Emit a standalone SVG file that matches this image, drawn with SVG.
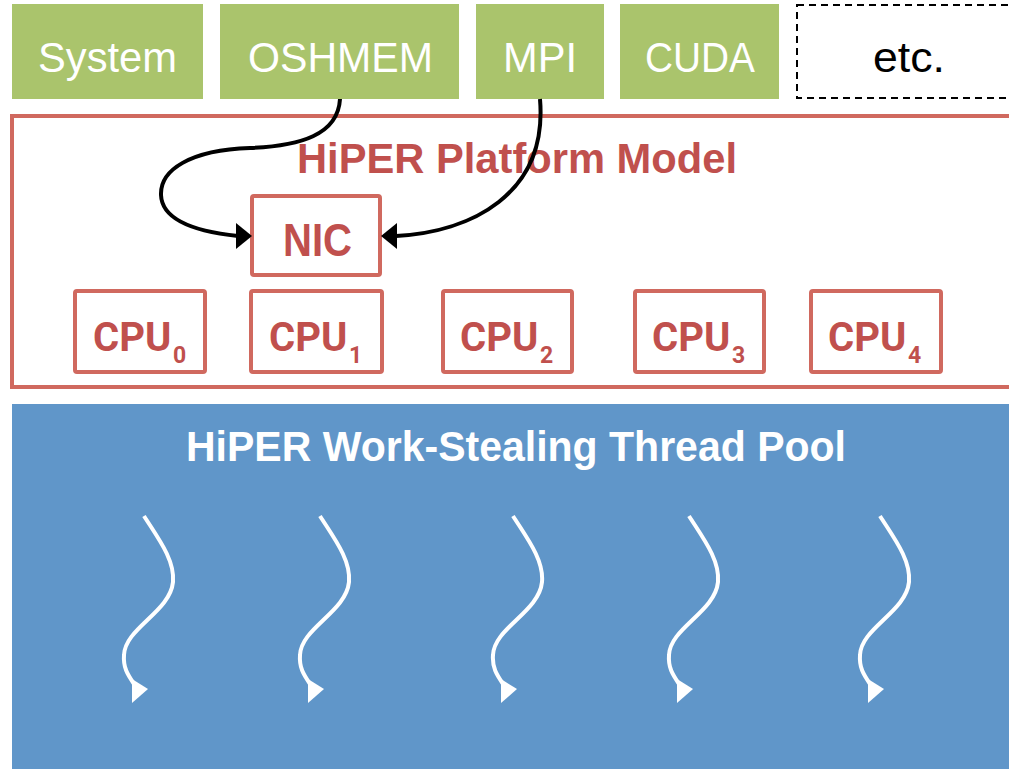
<svg xmlns="http://www.w3.org/2000/svg" width="1009" height="769" viewBox="0 0 1009 769">
<style>
.g{fill:#aac46c}
.gt{font-family:"Liberation Sans",Arial,sans-serif;font-size:43px;fill:#fff}
.rb{fill:#fff;stroke:#d0695f;stroke-width:4}
.rt{font-family:"Liberation Sans",Arial,sans-serif;font-weight:bold;fill:#c0504d}
.cpu{font-family:Roboto,"Liberation Sans",sans-serif;font-weight:bold;fill:#c0504d;font-size:40px}
.sub{font-size:23px}
.wt{font-family:"Liberation Sans",Arial,sans-serif;font-weight:bold;font-size:42px;fill:#fff}
.conn{fill:none;stroke:#000;stroke-width:4}
.thr{fill:none;stroke:#fff;stroke-width:4}
</style>
<rect width="1009" height="769" fill="#fff"/>
<g id="system"><rect class="g" x="12" y="4" width="191" height="95"/><text class="gt" x="38" y="72" textLength="139" lengthAdjust="spacingAndGlyphs">System</text></g>
<g id="oshmem"><rect class="g" x="220" y="4" width="239" height="95"/><text class="gt" x="248" y="72" textLength="185" lengthAdjust="spacingAndGlyphs">OSHMEM</text></g>
<g id="mpi"><rect class="g" x="476" y="4" width="128" height="95"/><text class="gt" x="503" y="72" textLength="74" lengthAdjust="spacingAndGlyphs">MPI</text></g>
<g id="cuda"><rect class="g" x="620" y="4" width="159" height="95"/><text class="gt" x="645" y="72" textLength="110" lengthAdjust="spacingAndGlyphs">CUDA</text></g>
<g id="etc"><rect x="797" y="5" width="220" height="93" fill="#fff" stroke="#000" stroke-width="2" stroke-dasharray="7,5"/><text x="873" y="72" font-family="Liberation Sans,Arial,sans-serif" font-size="43" fill="#000" textLength="72" lengthAdjust="spacingAndGlyphs">etc.</text></g>
<g id="platform"><rect x="12" y="116" width="1010" height="271" fill="#fff" stroke="#d0695f" stroke-width="4"/><text class="rt" x="297" y="173" font-size="42" textLength="440" lengthAdjust="spacingAndGlyphs">HiPER Platform Model</text></g>
<g id="nic"><rect class="rb" x="252" y="196" width="128" height="79" rx="2"/><text class="rt" x="283" y="256" font-size="46" textLength="69" lengthAdjust="spacingAndGlyphs">NIC</text></g>
<g id="cpu0"><rect class="rb" x="75" y="291" width="130" height="81" rx="2"/><text class="cpu" x="93" y="351">CPU<tspan class="sub" x="173" y="363">0</tspan></text></g>
<g id="cpu1"><rect class="rb" x="251" y="291" width="131" height="81" rx="2"/><text class="cpu" x="269" y="351">CPU<tspan class="sub" x="349" y="363">1</tspan></text></g>
<g id="cpu2"><rect class="rb" x="443" y="291" width="129" height="81" rx="2"/><text class="cpu" x="460" y="351">CPU<tspan class="sub" x="540" y="363">2</tspan></text></g>
<g id="cpu3"><rect class="rb" x="635" y="291" width="129" height="81" rx="2"/><text class="cpu" x="652" y="351">CPU<tspan class="sub" x="732" y="363">3</tspan></text></g>
<g id="cpu4"><rect class="rb" x="811" y="291" width="130" height="81" rx="2"/><text class="cpu" x="828" y="351">CPU<tspan class="sub" x="908" y="363">4</tspan></text></g>
<g id="connectors">
<path class="conn" d="M340,99 C338,135 300,146 250,148 C190,150 160,170 161,195 C162,222 200,232 238,236"/>
<polygon points="236,223 252,236 236,249" fill="#000"/>
<path class="conn" d="M540,99 C548,195 470,232 396,236"/>
<polygon points="397,223 381,236 397,249" fill="#000"/>
</g>
<g id="pool"><rect x="12" y="404" width="1000" height="370" fill="#6096c9"/><text class="wt" x="186" y="461" textLength="660" lengthAdjust="spacingAndGlyphs">HiPER Work-Stealing Thread Pool</text></g>
<g id="threads">
<g id="t0" transform="translate(0,0)"><path class="thr" d="M144,516 C158,538 175,560 173,582 C170,612 125,628 124,655 C123,668 128,675 134,684"/><polygon fill="#fff" points="132,679 148,689 132,703"/></g>
<g id="t1" transform="translate(176,0)"><path class="thr" d="M144,516 C158,538 175,560 173,582 C170,612 125,628 124,655 C123,668 128,675 134,684"/><polygon fill="#fff" points="132,679 148,689 132,703"/></g>
<g id="t2" transform="translate(369,0)"><path class="thr" d="M144,516 C158,538 175,560 173,582 C170,612 125,628 124,655 C123,668 128,675 134,684"/><polygon fill="#fff" points="132,679 148,689 132,703"/></g>
<g id="t3" transform="translate(545,0)"><path class="thr" d="M144,516 C158,538 175,560 173,582 C170,612 125,628 124,655 C123,668 128,675 134,684"/><polygon fill="#fff" points="132,679 148,689 132,703"/></g>
<g id="t4" transform="translate(736,0)"><path class="thr" d="M144,516 C158,538 175,560 173,582 C170,612 125,628 124,655 C123,668 128,675 134,684"/><polygon fill="#fff" points="132,679 148,689 132,703"/></g>
</g>
</svg>
